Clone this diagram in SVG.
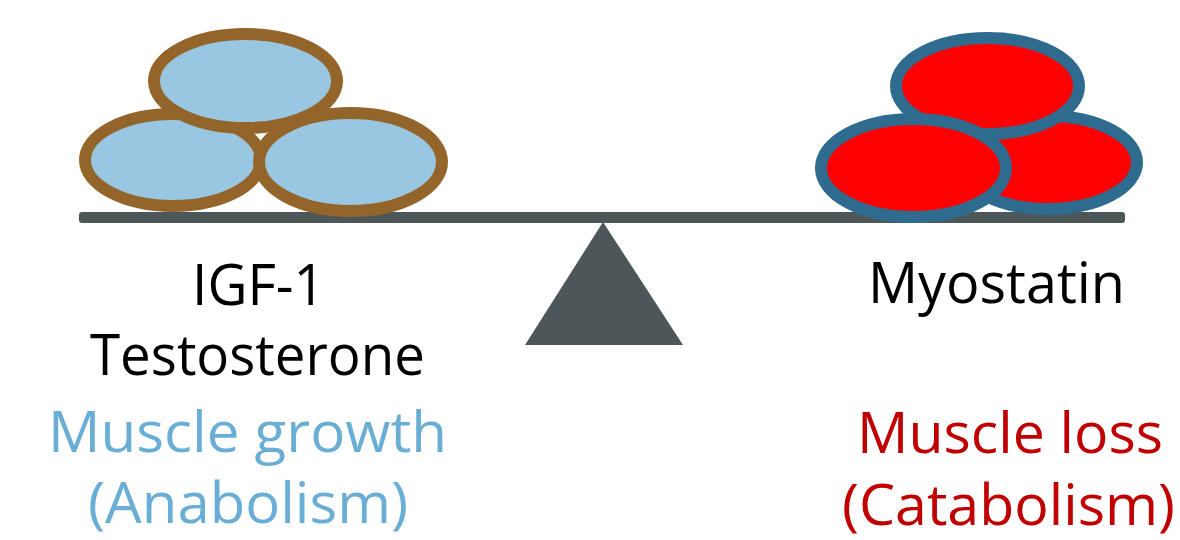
<svg xmlns="http://www.w3.org/2000/svg" width="1180" height="540" viewBox="0 0 1180 540">
<style>
.cellL{fill:#99c6e0;stroke:#94652a;stroke-width:12}
.cellR{fill:#ff0000;stroke:#2e6b8e;stroke-width:12}
.t{font-family:"Open Sans","Noto Sans","DejaVu Sans",sans-serif;font-size:56px}
.blk{fill:#000000}
.blue{fill:#6aaed6}
.red{fill:#c00000}
.scale{fill:#4d5659}
</style>
<rect width="1180" height="540" fill="#ffffff"/>
<g id="scale">
<rect class="scale" x="79" y="212" width="1046" height="11" rx="3"/>
<polygon class="scale" points="603,222 683,345 525,345"/>
</g>
<g id="left-cells">
<ellipse class="cellL" cx="173" cy="160" rx="88" ry="46"/>
<ellipse class="cellL" cx="245.5" cy="81" rx="91.5" ry="47"/>
<ellipse class="cellL" cx="350.5" cy="162" rx="91.5" ry="49"/>
</g>
<g id="right-cells">
<ellipse class="cellR" cx="1048" cy="162.5" rx="89" ry="46.5"/>
<ellipse class="cellR" cx="987.5" cy="86" rx="91.5" ry="48"/>
<ellipse class="cellR" cx="913.5" cy="168" rx="92.5" ry="49"/>
</g>
<g id="left-labels">
<text class="t blk" x="192" y="305" textLength="133" lengthAdjust="spacingAndGlyphs">IGF-1</text>
<text class="t blk" x="90" y="375" textLength="335" lengthAdjust="spacingAndGlyphs">Testosterone</text>
<text class="t blue" x="48" y="452" textLength="399" lengthAdjust="spacingAndGlyphs">Muscle growth</text>
<text class="t blue" x="88" y="523" textLength="320" lengthAdjust="spacingAndGlyphs">(Anabolism)</text>
</g>
<g id="right-labels">
<text class="t blk" x="868" y="303" textLength="257" lengthAdjust="spacingAndGlyphs">Myostatin</text>
<text class="t red" x="857" y="453" textLength="306" lengthAdjust="spacingAndGlyphs">Muscle loss</text>
<text class="t red" x="842" y="525" textLength="333" lengthAdjust="spacingAndGlyphs">(Catabolism)</text>
</g>
</svg>
